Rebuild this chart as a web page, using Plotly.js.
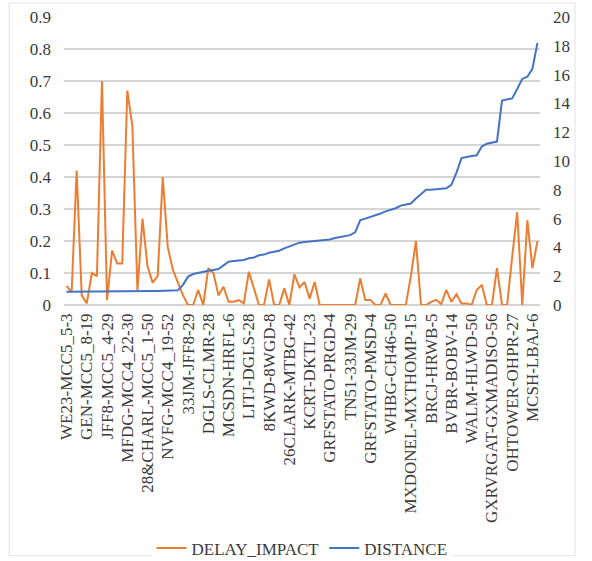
<!DOCTYPE html>
<html>
<head>
<meta charset="utf-8">
<script src="https://cdn.plot.ly/plotly-3.0.1.min.js"></script>
<style>html,body{margin:0;padding:0;background:#fff;}#chart{width:592px;height:561px;}</style>
</head>
<body>
<div id="chart"></div>
<script>
// Tick labels shown every 4th category
const tickLabels = ["WE23-MCC5_5-3","GEN-MCC5_8-19","JFF8-MCC5_4-29","MFDG-MCC4_22-30","28&CHARL-MCC5_1-50","NVFG-MCC4_19-52","33JM-JFF8-29","DGLS-CLMR-28","MCSDN-HRFL-6","LITJ-DGLS-28","8KWD-8WGD-8","26CLARK-MTBG-42","KCRT-DKTL-23","GRFSTATO-PRGD-4","TN51-33JM-29","GRFSTATO-PMSD-4","WHBG-CH46-50","MXDONEL-MXTHOMP-15","BRCJ-HRWB-5","BVBR-BOBV-14","WALM-HLWD-50","GXRVRGAT-GXMADISO-56","OHTOWER-OHPR-27","MCSH-LBAJ-6"];
const labelStep = 4;

const delayImpact = [
  0.06,0.04,0.42,0.03,0.005,0.10,0.09,0.70,0.015,0.17,
  0.13,0.13,0.67,0.56,0.045,0.27,0.12,0.07,0.09,0.40,
  0.18,0.11,0.07,0.03,0.0,0.0,0.047,0.0,0.115,0.10,
  0.03,0.057,0.01,0.01,0.015,0.005,0.104,0.055,0.0,0.0,
  0.08,0.0,0.0,0.052,0.0,0.096,0.055,0.072,0.02,0.072,
  0.0,0.0,0.0,0.0,0.0,0.0,0.0,0.0,0.083,0.016,
  0.016,0.0,0.0,0.036,0.0,0.0,0.0,0.0,0.09,0.20,
  0.0,0.0,0.01,0.016,0.003,0.047,0.01,0.034,0.005,0.005,
  0.0,0.047,0.063,0.0,0.0,0.115,0.0,0.0,0.15,0.29,
  0.0,0.265,0.115,0.20
];

const distance = [
  0.92,0.92,0.92,0.92,0.92,0.93,0.93,0.93,0.94,0.94,
  0.94,0.95,0.95,0.95,0.96,0.96,0.97,0.97,0.98,0.98,
  0.99,1.0,1.02,1.4,1.97,2.15,2.24,2.31,2.38,2.43,
  2.5,2.75,3.0,3.05,3.1,3.12,3.24,3.3,3.45,3.5,
  3.63,3.7,3.77,3.93,4.05,4.17,4.33,4.38,4.42,4.44,
  4.47,4.5,4.55,4.65,4.7,4.75,4.85,5.05,5.9,6.0,
  6.1,6.2,6.35,6.5,6.6,6.72,6.9,7.0,7.05,7.4,
  7.7,8.0,8.0,8.05,8.05,8.1,8.35,9.2,10.2,10.3,
  10.35,10.4,11.0,11.2,11.3,11.35,14.2,14.25,14.35,15.0,
  15.7,15.85,16.4,18.2
];

const xIdx = delayImpact.map((_, i) => i);
const tickVals = tickLabels.map((_, k) => k * labelStep);

const font = {family: '"Liberation Serif", "Times New Roman", serif', size: 17, color: '#3A3A3A'};

const traces = [
  {x: xIdx, y: delayImpact, type: 'scatter', mode: 'lines', name: 'DELAY_IMPACT',
   line: {color: '#ED7D31', width: 2}, yaxis: 'y'},
  {x: xIdx, y: distance, type: 'scatter', mode: 'lines', name: 'DISTANCE',
   line: {color: '#4472C4', width: 2}, yaxis: 'y2'}
];

const layout = {
  width: 592, height: 561,
  margin: {l: 64, r: 52, t: 17, b: 256, autoexpand: false},
  paper_bgcolor: '#ffffff', plot_bgcolor: 'rgba(0,0,0,0)',
  font: font,
  showlegend: true,
  legend: {orientation: 'h', x: 0.5, xanchor: 'center', y: -0.845, yanchor: 'middle', font: font},
  xaxis: {range: [-0.5, 93.5], tickmode: 'array', tickvals: tickVals, ticktext: tickLabels,
          tickangle: -90, showgrid: false, zeroline: false, showline: false, ticks: '',
          tickfont: font, ticklabelstandoff: 4, automargin: false, fixedrange: true},
  yaxis: {range: [0, 0.9], dtick: 0.1, tick0: 0, showgrid: true, gridcolor: '#D5D5D5', gridwidth: 1.6,
          zeroline: true, zerolinecolor: '#D5D5D5', zerolinewidth: 1.6, showline: false, ticks: '',
          tickfont: font, ticklabelstandoff: 12, automargin: false},
  yaxis2: {range: [0, 20], dtick: 2, tick0: 0, overlaying: 'y', side: 'right', showgrid: false,
           zeroline: false, showline: false, ticks: '', tickfont: font, ticklabelstandoff: 12, automargin: false},
  shapes: [
    {type: 'rect', xref: 'paper', yref: 'paper', x0: -0.115, x1: 1.0735, y0: -0.87, y1: 1.0486,
     line: {color: '#E3E3E3', width: 1}, fillcolor: 'rgba(0,0,0,0)'}
  ]
};

Plotly.newPlot('chart', traces, layout, {displayModeBar: false, staticPlot: true});
</script>
</body>
</html>
